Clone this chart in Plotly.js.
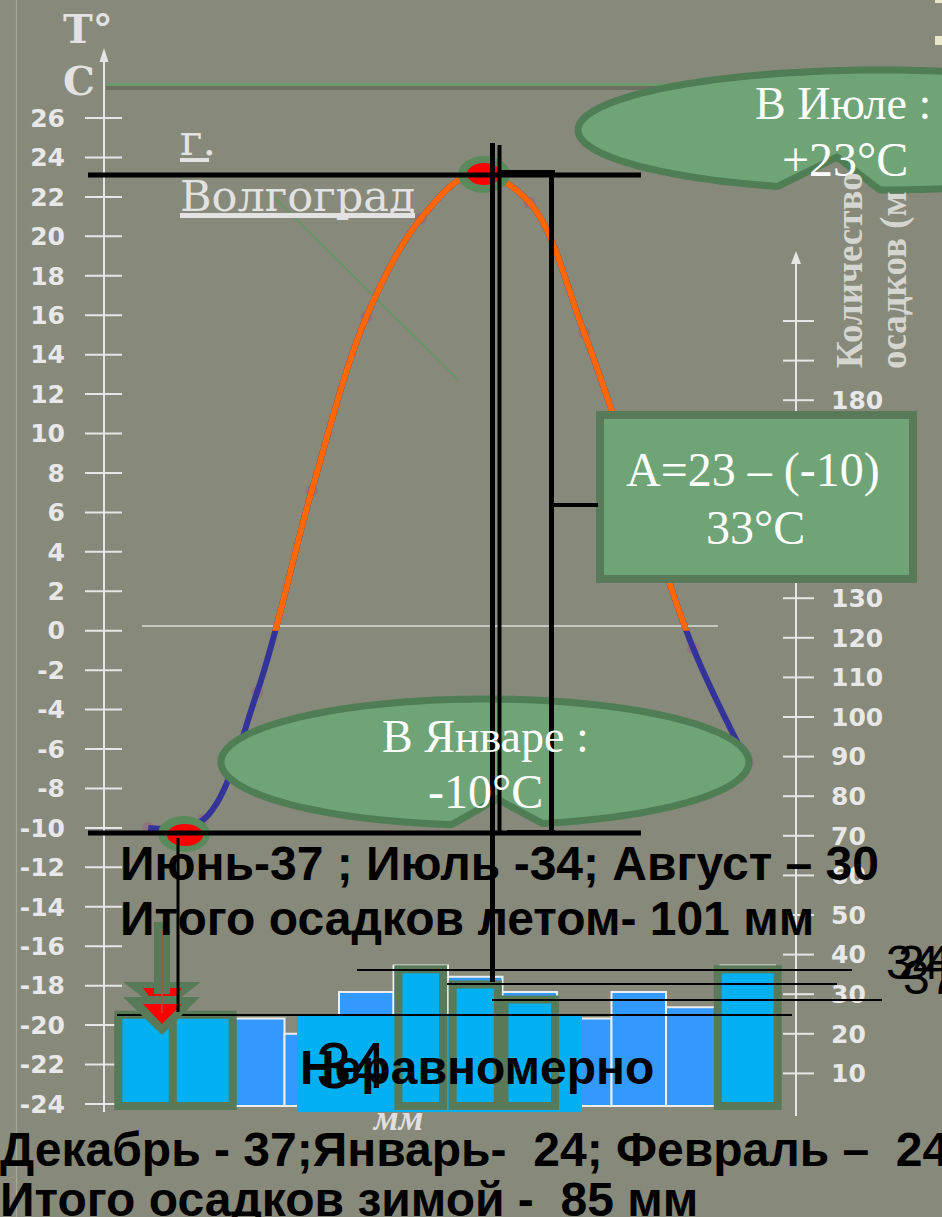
<!DOCTYPE html>
<html>
<head>
<meta charset="utf-8">
<script src="https://cdn.plot.ly/plotly-3.0.1.min.js"></script>
<style>
html,body{margin:0;padding:0;background:#87897A;overflow:hidden;}
#chart{width:942px;height:1217px;}
</style>
</head>
<body>
<div id="chart"></div>
<script>
// ---------------- DATA ----------------
const months = ['Янв','Фев','Мар','Апр','Май','Июн','Июл','Авг','Сен','Окт','Ноя','Дек'];
const temperature = [-10.0, -9.6, -3.1, 7.1, 15.9, 20.9, 23.2, 21.7, 15.1, 7.1, -0.9, -6.7];
const precipitation = [24, 24, 23, 19, 30, 37, 34, 30, 23, 30, 26, 37];
const highlightMonths = ['Янв','Фев','Июн','Июл','Авг','Дек'];
const highlightTops = [24, 24, 36, 32, 28, 36];
const tempTicks = [-24,-22,-20,-18,-16,-14,-12,-10,-8,-6,-4,-2,0,2,4,6,8,10,12,14,16,18,20,22,24,26];
const precipTicks = [10,20,30,40,50,60,70,80,90,100,110,120,130,140,150,160,170,180,190,200];
const precipLabelled = [10,20,30,40,50,60,70,80,90,100,110,120,130,140,150,160,170,180];

// ---------------- GEOMETRY HELPERS ----------------
const W = 942, H = 1217, ML = 66;
const PX = x => (x - ML) / (W - ML);
const PY = y => (H - y) / H;

// temperature axis: 26 at y=118, 19.72 px per degree
const TPX = 19.72;
const tTop = 26 + 118 / TPX, tBot = 26 - (H - 118) / TPX;
const zeroFrac = (H - (118 + 26 * TPX)) / H;
// labelled precipitation axis: 0 at y=1113, 3.96 px per mm
const pTop = 1113 / 3.96, pBot = -(H - 1113) / 3.96;
// bar axis: 0 at y=1106, 3.8 px per mm
const bTop = 1106 / 3.8, bBot = -(H - 1106) / 3.8;
// month axis: first month centred at x=148.25, 54.5 px per month
const xr0 = (ML - 148.25) / 54.5, xr1 = (W - 148.25) / 54.5;

const AX = '#E6E6E6';
const GREEN_FILL = '#6FA476';
const GREEN_LINE = '#4F7D54';
const BOX_LINE = '#587A58';

const shapes = [];
function L(x0,y0,x1,y1,color,width,layer){
  shapes.push({type:'line',xref:'paper',yref:'paper',x0:PX(x0),y0:PY(y0),x1:PX(x1),y1:PY(y1),
    line:{color:color,width:width},layer:layer||'above'});
}
function R(x0,y0,x1,y1,fill,lc,lw,layer){
  shapes.push({type:'rect',xref:'paper',yref:'paper',x0:PX(x0),y0:PY(y0),x1:PX(x1),y1:PY(y1),
    fillcolor:fill,line:{color:lc||'rgba(0,0,0,0)',width:lw||0},layer:layer||'above'});
}
function C(cx,cy,rx,ry,fill,lc,lw){
  shapes.push({type:'circle',xref:'paper',yref:'paper',x0:PX(cx-rx),y0:PY(cy+ry),x1:PX(cx+rx),y1:PY(cy-ry),
    fillcolor:fill,line:{color:lc||'rgba(0,0,0,0)',width:lw||0},layer:'above'});
}
function P(pts,fill,lc,lw,layer){
  const d = 'M' + pts.map(p => PX(p[0]).toFixed(5) + ',' + PY(p[1]).toFixed(5)).join('L') + 'Z';
  shapes.push({type:'path',xref:'paper',yref:'paper',path:d,fillcolor:fill,
    line:{color:lc||'rgba(0,0,0,0)',width:lw||0},layer:layer||'above'});
}
function ellipsePts(cx,cy,rx,ry,notch){
  const pts=[]; const N=200; let ins=false;
  for(let i=0;i<=N;i++){
    const t=i/N*2*Math.PI;
    const x=cx+rx*Math.cos(t), y=cy+ry*Math.sin(t);
    if(notch && Math.sin(t)>0 && x<notch.x1 && x>notch.x0){
      if(!ins){pts.push([notch.ax,notch.ay]);ins=true;}
      continue;
    }
    pts.push([x,y]);
  }
  return pts;
}

// ---- background details (below) ----
R(0,0,16,H,'#8B8D7F',null,0,'below');
L(16.5,0,16.5,H,'#A6A996',1.2,'below');
L(106,88,W,88,'rgba(60,62,50,0.35)',4,'below');
L(106,84.5,W,84.5,'#6A9E6A',2.5,'below');
L(267,190,458,380,'#5E9A62',1.5,'below');
L(142,626,718,626,'#D8D8D8',1.5,'below');

// left axis
L(104,60,104,1112,AX,2,'below');
P([[104,48],[99.5,62],[108.5,62]],AX,null,0,'below');
tempTicks.forEach(t => shapes.push({type:'line',xref:'paper',yref:'y',x0:PX(85),x1:PX(122),y0:t,y1:t,
  line:{color:AX,width:2},layer:'below'}));
// right axis
L(796,262,796,1116,AX,2,'below');
P([[796,251],[791,264],[801,264]],AX,null,0,'below');
precipTicks.forEach(v => shapes.push({type:'line',xref:'paper',yref:'y3',x0:PX(783),x1:PX(814),y0:v,y1:v,
  line:{color:AX,width:2},layer:'below'}));

// ---- above traces ----
// text box under the highlight cells
R(297,1016,582,1112,'#00B0F0');
// highlighted months (winter / summer)
const hlWidth = [1.1,1.1,0.82,0.83,0.93,1.1];
highlightMonths.forEach((m,i) => {
  const idx = months.indexOf(m);
  shapes.push({type:'rect',xref:'x',yref:'y4',x0:idx-hlWidth[i]/2,x1:idx+hlWidth[i]/2,y0:0,y1:highlightTops[i],
    fillcolor:'#00B0F0',line:{color:BOX_LINE,width:8},layer:'above'});
});

// callouts
P(ellipsePts(485,762,264,63,{x0:455,x1:535,ax:497,ay:799}),GREEN_FILL,GREEN_LINE,7);
P(ellipsePts(880,130,302,60,{x0:780,x1:877,ax:837,ay:157}),GREEN_FILL,GREEN_LINE,7);
R(600,415,913,579,GREEN_FILL,BOX_LINE,8);

// extreme markers
C(484,174.5,26,18.5,'#5A8A5C');
C(484,174,17,11,'#FF0000');
C(184,834,26,18,'#5A8A5C');
C(185,835,18,11,'#FF0000');

// thin black lines
L(357,970,852,970,'#000',2);
L(447,984,837,984,'#000',2);
L(492,1000,882,1000,'#000',2);
L(117,1015,792,1015,'#000',2);

// green arrow
P([[123,982],[201,982],[162,1012]],BOX_LINE);
P([[123,997],[200,997],[162,1035]],BOX_LINE);
P([[143,988],[182,988],[176,996],[149,996]],'#FF0000');
P([[143,1004],[182,1004],[162,1024]],'#FF0000');
R(154,922,170,994,BOX_LINE);
L(162,930,162,1013,'#B0503A',1.5);

// thick black lines
L(88,175,641,175,'#000',5);
L(88,833,641,833,'#000',5);
L(492.5,143,492.5,982,'#000',5);
L(499.5,145,499.5,833,'#000',4);
L(500,172,555,172,'#000',4);
L(551.5,172,551.5,832,'#000',5);
L(507,832,555,832,'#000',4);
L(551,505,598,505,'#000',4);
L(178,838,178,1012,'#000',3);

// clipped glyph fragments at the top right edge
R(935,0,942,3,'#E8E8C8');
R(935,36,942,45,'#E8E8C8');

// ---------------- TEXT ----------------
const SANS = 'Liberation Sans, Arial, sans-serif';
const SERIF = 'Liberation Serif, Times New Roman, serif';
const DSERIF = 'DejaVu Serif, serif';
const anns = [];
function A(text,x,y,o){
  o=o||{};
  anns.push({xref:'paper',yref:'paper',x:PX(x),y:PY(y),text:text,showarrow:false,
    xanchor:o.xa||'left',yanchor:o.ya||'middle',textangle:o.angle||0,
    font:{family:o.f||SANS,size:o.s||48,color:o.c||'#000000'}});
}
A('<b>Июнь-37 ; Июль -34; Август – 30</b>',118,863);
A('<b>Итого осадков летом- 101 мм</b>',118,918);
A('<b>Декабрь - 37;Январь-\u00a0 24; Февраль –\u00a0 24</b>',-2,1149);
A('<b>Итого осадков зимой -\u00a0 85 мм</b>',-2,1199);
A('<b>Неравномерно</b>',298,1067);
A('34',351,1066,{xa:'center',s:64});
A('34',884,963);
A('24',896,963);
A('37',901,977);
A('В Июле :',843,103,{xa:'center',f:SERIF,s:46,c:'#FFFFFF'});
A('+23°C',845,160,{xa:'center',f:SERIF,s:48,c:'#FFFFFF'});
A('A=23 – (-10)',753,470,{xa:'center',f:SERIF,s:48,c:'#FFFFFF'});
A('33°C',755,528,{xa:'center',f:SERIF,s:48,c:'#FFFFFF'});
A('В Январе :',485,737,{xa:'center',f:SERIF,s:46,c:'#FFFFFF'});
A('-10°C',485,791,{xa:'center',f:SERIF,s:48,c:'#FFFFFF'});
A('г.',178,140,{f:DSERIF,s:43,c:'#E2E2E2'});
A('Волгоград',178,196,{f:DSERIF,s:43,c:'#E2E2E2'});
A('<b>Т°</b>',61,29,{f:DSERIF,s:40,c:'#E2E2E2'});
A('<b>С</b>',61,81,{f:DSERIF,s:40,c:'#E2E2E2'});
A('<b>Количество</b>',849,270,{xa:'center',angle:-90,f:SERIF,s:37,c:'#D6D6D0'});
A('<b>осадков (м</b>',894,280,{xa:'center',angle:-90,f:SERIF,s:37,c:'#D6D6D0'});
A('<b><i>мм</i></b>',397,1118,{xa:'center',f:SERIF,s:36,c:'#E0E0E0'});

// underlines of the city name
L(180,160,209,160,'#E2E2E2',4);
L(180,215.5,415,215.5,'#E2E2E2',5);

// ---------------- TRACES ----------------
const traces = [
  {type:'bar',x:months,y:precipitation,xaxis:'x',yaxis:'y4',width:1,
    marker:{color:'#3399FF',line:{color:'#EEEEEE',width:2}},hoverinfo:'skip'},
  {type:'scatter',mode:'markers',x:months,y:temperature,xaxis:'x',yaxis:'y',
    marker:{size:12,color:'rgba(150,100,125,0.6)'},hoverinfo:'skip'},
  {type:'scatter',mode:'lines',x:months,y:temperature,xaxis:'x',yaxis:'y',
    line:{color:'#333399',width:6,shape:'spline',smoothing:1},hoverinfo:'skip'},
  {type:'scatter',mode:'lines',x:months,y:temperature,xaxis:'x',yaxis:'y2',
    line:{color:'#FF6600',width:6,shape:'spline',smoothing:1},hoverinfo:'skip'}
];

const tickFont = {family:'DejaVu Sans, Verdana, sans-serif',size:25,color:'#E8E8E8',weight:'bold'};
const label = v => '<b>' + String(v) + '</b>';
const layout = {
  width:W,height:H,
  margin:{l:ML,r:0,t:0,b:0,pad:0},
  paper_bgcolor:'#87897A',plot_bgcolor:'rgba(0,0,0,0)',
  showlegend:false,barmode:'overlay',bargap:0,
  xaxis:{type:'category',categoryorder:'array',categoryarray:months,range:[xr0,xr1],visible:false,anchor:'y'},
  yaxis:{range:[tBot,tTop],tickvals:tempTicks,ticktext:tempTicks.map(label),ticks:'',ticklen:0,showgrid:false,
    zeroline:false,showline:false,tickfont:tickFont,automargin:false,ticklabelstandoff:0},
  yaxis2:{domain:[zeroFrac,1],range:[0,tTop],visible:false,anchor:'x'},
  yaxis3:{overlaying:'y',anchor:'free',position:PX(796),side:'right',range:[pBot,pTop],
    tickvals:precipLabelled,ticktext:precipLabelled.map(label),ticks:'',ticklen:0,showgrid:false,zeroline:false,
    showline:false,tickfont:tickFont,automargin:false,ticklabelstandoff:34},
  yaxis4:{overlaying:'y',range:[bBot,bTop],visible:false},
  shapes:shapes,
  annotations:anns
};
Plotly.newPlot('chart',traces,layout,{staticPlot:true,displayModeBar:false});
</script>
</body>
</html>
